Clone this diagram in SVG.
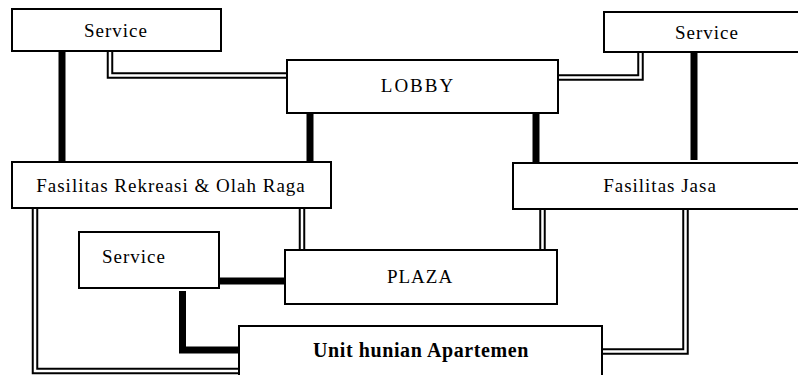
<svg xmlns="http://www.w3.org/2000/svg" width="798" height="375" viewBox="0 0 798 375">
  <style>
    .box { fill: #fff; stroke: #000; stroke-width: 2; }
    .lbl { font-family: "Liberation Serif", "Times New Roman", serif; font-size: 19px; letter-spacing: 1px; fill: #000; text-anchor: middle; }
    .wide { letter-spacing: 2px; }
    .bold { font-weight: bold; font-size: 20px; letter-spacing: 0.6px; }
    .thick { fill: none; stroke: #000; stroke-width: 7; stroke-linejoin: miter; stroke-linecap: butt; }
    .dbl-outer { fill: none; stroke: #000; stroke-width: 6.5; stroke-linejoin: miter; }
    .dbl-inner { fill: none; stroke: #fff; stroke-width: 2.5; stroke-linejoin: miter; }
  </style>
  <rect width="798" height="375" fill="#fff"/>

  <!-- connectors -->
  <g id="connectors">
    <!-- heavy links -->
    <path class="thick" d="M62,51 V162"/>
    <path class="thick" d="M310,113 V162"/>
    <path class="thick" d="M536,113 V163"/>
    <path class="thick" d="M694,52 V160"/>
    <path class="thick" d="M216,281 H285"/>
    <path class="thick" d="M182.5,291 V350 H239"/>
    <!-- double links -->
    <g id="double-links">
      <path class="dbl-outer" d="M110,51 V75.5 H287"/>
      <path class="dbl-outer" d="M558,77.5 H640.5 V52"/>
      <path class="dbl-outer" d="M302,208 V256"/>
      <path class="dbl-outer" d="M542.5,209 V257"/>
      <path class="dbl-outer" d="M685.5,209 V351.5 H602"/>
      <path class="dbl-outer" d="M35,208 V371 H239"/>
      <path class="dbl-inner" d="M110,51 V75.5 H287"/>
      <path class="dbl-inner" d="M558,77.5 H640.5 V52"/>
      <path class="dbl-inner" d="M302,208 V256"/>
      <path class="dbl-inner" d="M542.5,209 V257"/>
      <path class="dbl-inner" d="M685.5,209 V351.5 H602"/>
      <path class="dbl-inner" d="M35,208 V371 H239"/>
    </g>
  </g>

  <g id="service-top-left">
    <rect class="box" x="12" y="9" width="209" height="42"/>
    <text class="lbl" x="116" y="37">Service</text>
  </g>
  <g id="lobby">
    <rect class="box" x="287" y="60" width="271" height="53"/>
    <text class="lbl wide" x="418" y="92">LOBBY</text>
  </g>
  <g id="service-top-right">
    <rect class="box" x="604" y="12" width="210" height="40"/>
    <text class="lbl" x="707" y="39">Service</text>
  </g>
  <g id="fasilitas-rekreasi">
    <rect class="box" x="12" y="162" width="319" height="46"/>
    <text class="lbl" x="171" y="192">Fasilitas Rekreasi &amp; Olah Raga</text>
  </g>
  <g id="fasilitas-jasa">
    <rect class="box" x="513" y="163" width="300" height="46"/>
    <text class="lbl" x="660" y="192">Fasilitas Jasa</text>
  </g>
  <g id="service-middle">
    <rect class="box" x="79" y="232" width="140" height="56"/>
    <text class="lbl" x="134" y="263">Service</text>
  </g>
  <g id="plaza">
    <rect class="box" x="285" y="250" width="272" height="54"/>
    <text class="lbl" x="420" y="283">PLAZA</text>
  </g>
  <g id="unit-hunian">
    <rect class="box" x="239" y="326" width="363" height="60"/>
    <text class="lbl bold" x="421" y="357">Unit hunian Apartemen</text>
  </g>
</svg>
